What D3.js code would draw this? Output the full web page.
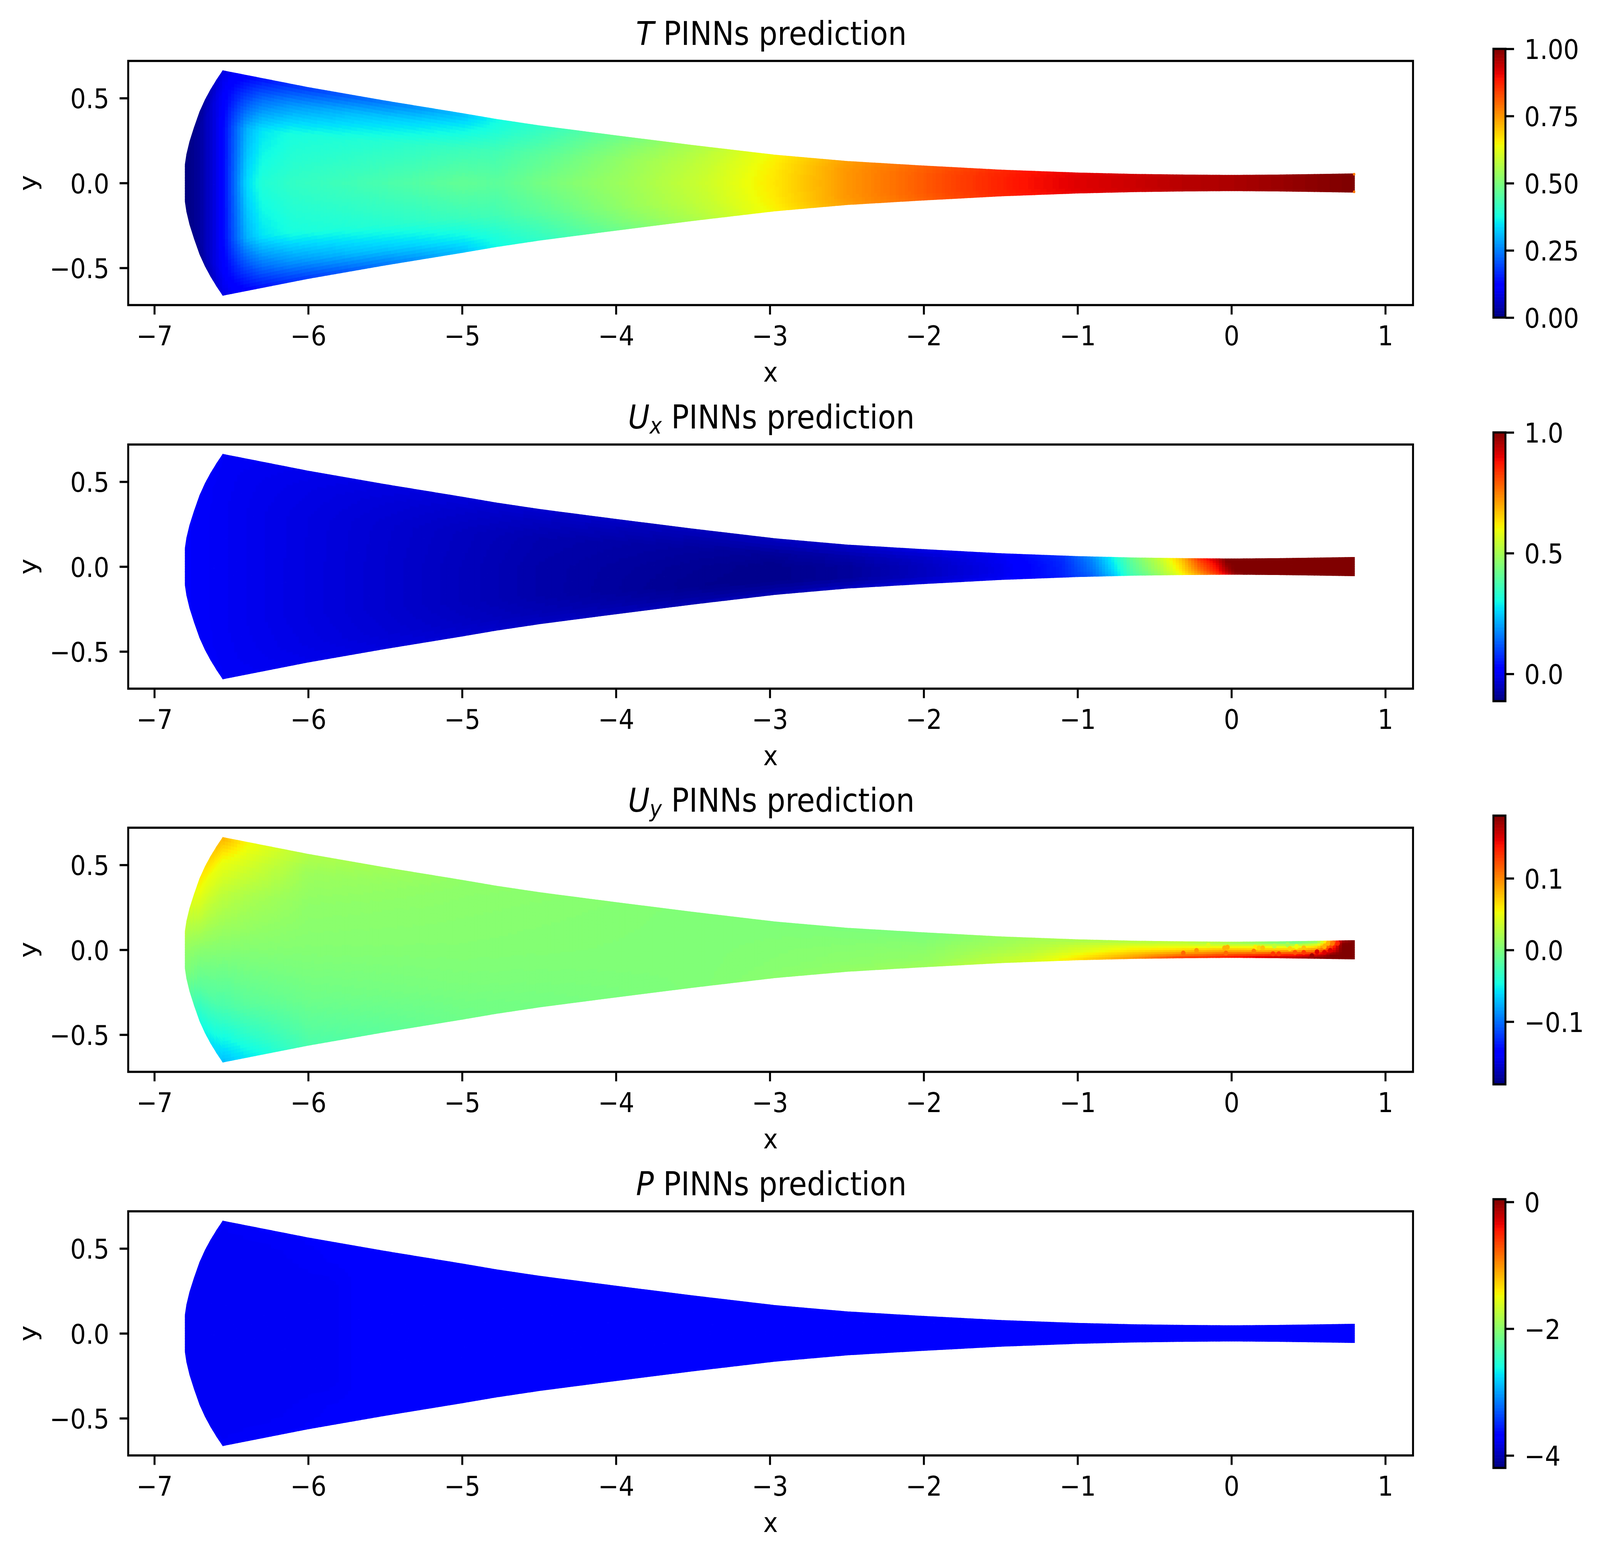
<!DOCTYPE html>
<html>
<head>
<meta charset="utf-8">
<script src="https://cdn.jsdelivr.net/npm/d3@7"></script>
<style>
  html, body { margin: 0; padding: 0; background: #fff; overflow: hidden; }
  svg { display: block; }
  text { font-family: "DejaVu Sans", sans-serif; fill: #000; }
</style>
</head>
<body>
<div id="chart"></div>
<script>
// Nozzle outline, upper half (lower wall is its mirror)
var wallX = [-6.8, -6.79, -6.77, -6.74, -6.705, -6.67, -6.634, -6.595, -6.555, -6, -5.5, -5, -4.78, -4.5, -4, -3.5, -2.967, -2.5, -2.018, -1.788, -1.5, -1, -0.6375, -0.3, 0, 0.3, 0.6, 0.8];
var wallY = [0.11, 0.17, 0.245, 0.33, 0.42, 0.49, 0.55, 0.608, 0.662, 0.563, 0.484, 0.41, 0.376, 0.338, 0.279, 0.222, 0.165, 0.128, 0.102, 0.091, 0.077, 0.06, 0.052, 0.048, 0.046, 0.048, 0.052, 0.055];

// Rows of every table below, as a fraction of the local half height
var etaRows = [-1, -0.8, -0.5, 0, 0.5, 0.8, 1];

// Temperature read at stations along x
var tempStations = [-6.8, -6.7, -6.6, -6.55, -6.5, -6.4, -6.3, -6.1, -5.7, -5.3, -5, -4.78, -4.4, -3.85, -3.4, -2.97, -2.5, -2.1, -1.79, -1.4, -1, -0.6, -0.3, 0, 0.4, 0.8];
var tempValues = [
  [0, 0, 0, 0, 0, 0, 0],
  [0.02, 0.03, 0.03, 0.03, 0.03, 0.03, 0.02],
  [0.07, 0.09, 0.09, 0.09, 0.09, 0.09, 0.07],
  [0.09, 0.11, 0.13, 0.13, 0.13, 0.11, 0.09],
  [0.10, 0.14, 0.19, 0.20, 0.19, 0.14, 0.10],
  [0.12, 0.19, 0.30, 0.34, 0.30, 0.19, 0.12],
  [0.14, 0.23, 0.35, 0.39, 0.35, 0.23, 0.14],
  [0.17, 0.27, 0.38, 0.41, 0.38, 0.27, 0.17],
  [0.215, 0.31, 0.39, 0.43, 0.39, 0.31, 0.215],
  [0.265, 0.335, 0.405, 0.45, 0.405, 0.335, 0.265],
  [0.31, 0.36, 0.42, 0.47, 0.42, 0.36, 0.31],
  [0.37, 0.39, 0.43, 0.46, 0.43, 0.39, 0.37],
  [0.42, 0.44, 0.47, 0.50, 0.47, 0.44, 0.42],
  [0.50, 0.52, 0.54, 0.55, 0.54, 0.52, 0.50],
  [0.57, 0.58, 0.59, 0.60, 0.59, 0.58, 0.57],
  [0.65, 0.655, 0.66, 0.665, 0.66, 0.655, 0.65],
  [0.74, 0.745, 0.75, 0.75, 0.75, 0.745, 0.74],
  [0.79, 0.795, 0.80, 0.80, 0.80, 0.795, 0.79],
  [0.83, 0.835, 0.84, 0.84, 0.84, 0.835, 0.83],
  [0.88, 0.88, 0.885, 0.885, 0.885, 0.88, 0.88],
  [0.91, 0.91, 0.915, 0.915, 0.915, 0.91, 0.91],
  [0.93, 0.93, 0.935, 0.935, 0.935, 0.93, 0.93],
  [0.95, 0.95, 0.95, 0.95, 0.95, 0.95, 0.95],
  [0.96, 0.96, 0.96, 0.96, 0.96, 0.96, 0.96],
  [0.98, 0.98, 0.98, 0.98, 0.98, 0.98, 0.98],
  [1, 1, 1, 1, 1, 1, 1]
];

// Small orange dots that peek out at the outlet corners
var tempDotX = [0.797, 0.797];
var tempDotY = [0.052, -0.052];
var tempDotV = [0.78, 0.78];

// Ux read at stations along x
var uxStations = [-6.8, -6.3, -5.5, -4.5, -3.5, -3, -2.5, -2, -1.5, -1.1, -0.9, -0.76, -0.65, -0.55, -0.45, -0.32, -0.21, -0.09, -0.03, 0.02, 0.1, 0.8];
var uxValues = [
  [0.01, 0.01, 0.01, 0.01, 0.01, 0.01, 0.01],
  [0, -0.005, -0.008, -0.008, -0.008, -0.005, 0],
  [-0.02, -0.03, -0.035, -0.035, -0.033, -0.025, -0.015],
  [-0.045, -0.06, -0.07, -0.07, -0.065, -0.05, -0.035],
  [-0.06, -0.08, -0.095, -0.09, -0.08, -0.065, -0.05],
  [-0.055, -0.08, -0.10, -0.10, -0.085, -0.06, -0.05],
  [-0.045, -0.065, -0.085, -0.085, -0.07, -0.05, -0.04],
  [-0.02, -0.035, -0.05, -0.05, -0.04, -0.025, -0.015],
  [0.005, 0, -0.005, -0.005, 0, 0.005, 0.01],
  [0.055, 0.06, 0.065, 0.065, 0.07, 0.075, 0.08],
  [0.13, 0.14, 0.15, 0.16, 0.17, 0.18, 0.19],
  [0.24, 0.25, 0.265, 0.277, 0.29, 0.30, 0.31],
  [0.36, 0.37, 0.38, 0.39, 0.40, 0.41, 0.42],
  [0.42, 0.43, 0.445, 0.46, 0.47, 0.48, 0.49],
  [0.49, 0.50, 0.515, 0.527, 0.54, 0.55, 0.56],
  [0.60, 0.61, 0.63, 0.644, 0.66, 0.67, 0.68],
  [0.70, 0.72, 0.75, 0.777, 0.80, 0.82, 0.84],
  [0.82, 0.84, 0.87, 0.889, 0.91, 0.93, 0.94],
  [0.90, 0.92, 0.95, 0.97, 0.99, 1, 1],
  [0.97, 0.98, 1, 1, 1, 1, 1],
  [1, 1, 1, 1, 1, 1, 1],
  [1, 1, 1, 1, 1, 1, 1]
];

// Uy read at stations along x
var uyStations = [-6.8, -6.7, -6.55, -6.4, -6, -5, -3.5, -2, -1.3, -0.64, -0.35, -0.064, 0.22, 0.41, 0.557, 0.65, 0.72, 0.8];
var uyValues = [
  [0, 0.002, 0.006, 0.011, 0.018, 0.025, 0.03],
  [-0.045, -0.034, -0.015, 0.006, 0.034, 0.05, 0.06],
  [-0.071, -0.049, -0.022, 0.004, 0.03, 0.052, 0.0825],
  [-0.056, -0.037, -0.015, 0.004, 0.022, 0.041, 0.056],
  [-0.022, -0.015, -0.006, 0.004, 0.009, 0.015, 0.024],
  [-0.006, -0.004, 0, 0.004, 0.006, 0.0075, 0.009],
  [0.002, 0.002, 0.002, 0.002, 0.002, 0.002, 0.002],
  [0.015, 0.013, 0.01, 0.0075, 0.004, 0.001, 0],
  [0.041, 0.0375, 0.034, 0.026, 0.021, 0.019, 0.017],
  [0.0975, 0.09, 0.079, 0.06, 0.045, 0.03, 0.0225],
  [0.135, 0.12, 0.0975, 0.0675, 0.045, 0.034, 0.026],
  [0.1425, 0.135, 0.1125, 0.079, 0.045, 0.026, 0.019],
  [0.165, 0.15, 0.124, 0.075, 0.045, 0.015, 0],
  [0.176, 0.161, 0.135, 0.079, 0.0375, 0, -0.011],
  [0.1875, 0.18, 0.15, 0.0975, 0.056, 0.019, 0.004],
  [0.1875, 0.1875, 0.186, 0.1425, 0.12, 0.0975, 0.086],
  [0.1875, 0.1875, 0.1875, 0.1875, 0.1875, 0.18, 0.169],
  [0.1875, 0.1875, 0.1875, 0.1875, 0.1875, 0.1875, 0.1875]
];

// Individual Uy scatter dots that stand out in the throat
var uyDotX = [-0.1505, -0.045, -0.026, 0.155, 0.179, 0.203, 0.279, 0.365, 0.4225, 0.3795, 0.47, 0.604, 0.628, 0.656, 0.69, -0.313, -0.227, -0.036, 0.1455, 0.27, 0.308, 0.413, 0.47, 0.556, 0.523, 0.642, 0.604];
var uyDotY = [0.0265, 0.011, 0.015, 0.015, 0.011, 0.011, 0.0226, 0.030, 0.019, 0.007, 0.011, 0.019, 0.038, 0.038, 0.038, -0.0196, -0.004, -0.0196, -0.008, -0.0235, -0.0235, -0.0157, -0.0157, -0.012, -0.035, -0.004, -0.0157];
var uyDotV = [0.045, 0.0825, 0.0825, 0.06, 0.0675, 0.075, 0.03, 0.019, 0.0525, 0.0675, 0.075, 0.0825, 0.0825, 0.105, 0.139, 0.1125, 0.094, 0.1125, 0.105, 0.131, 0.131, 0.12, 0.131, 0.1575, 0.176, 0.1575, 0.1575];

// Pressure read at stations along x
var pStations = [-6.8, -6.3, -5.85, -5.7, -4.9, -4.65, -4.2, 0.8];
var pValues = [
  [-3.76, -3.76, -3.76, -3.76, -3.76, -3.76, -3.76],
  [-3.73, -3.76, -3.76, -3.76, -3.76, -3.76, -3.73],
  [-3.73, -3.73, -3.76, -3.76, -3.76, -3.73, -3.73],
  [-3.73, -3.73, -3.73, -3.73, -3.73, -3.73, -3.73],
  [-3.73, -3.73, -3.73, -3.73, -3.73, -3.73, -3.73],
  [-3.73, -3.70, -3.70, -3.66, -3.70, -3.73, -3.73],
  [-3.66, -3.66, -3.66, -3.66, -3.66, -3.66, -3.66],
  [-3.66, -3.66, -3.66, -3.66, -3.66, -3.66, -3.66]
];

// Axis ticks
var xTicks = [-7, -6, -5, -4, -3, -2, -1, 0, 1];
var yTicks = [-0.5, 0, 0.5];

// Colorbar ranges and ticks
var tempRange = [0, 1];
var tempTicks = [0, 0.25, 0.5, 0.75, 1];
var uxRange = [-0.113, 1];
var uxTicks = [0, 0.5, 1];
var uyRange = [-0.1875, 0.1875];
var uyTicks = [-0.1, 0, 0.1];
var pRange = [-4.197, 0.043];
var pTicks = [-4, -2, 0];

// Define svg dimensions, the drawing keeps these units whatever the window is
var svgWidth = 4518;
var svgHeight = 3986;

// Define panel dimensions, everything below is in pixels of the 500 dpi figure
var panelLeft = 362;
var panelRight = 3990;
var panelHeight = 625;
var panelTops = [156, 1138, 2119, 3101];
var lineWidth = 5.56;
var tickLength = 24.3;
var tickFont = 69.44;
var titleFont = 83.33;

var panels = [
  {symbol: "T", sub: "", stations: tempStations, table: tempValues, range: tempRange, ticks: tempTicks, fmt: ".2f",
   dotX: tempDotX, dotY: tempDotY, dotV: tempDotV, dotR: 3.5},
  {symbol: "U", sub: "x", stations: uxStations, table: uxValues, range: uxRange, ticks: uxTicks, fmt: ".1f"},
  {symbol: "U", sub: "y", stations: uyStations, table: uyValues, range: uyRange, ticks: uyTicks, fmt: ".1f",
   dotX: uyDotX, dotY: uyDotY, dotV: uyDotV, dotR: 6.5},
  {symbol: "P", sub: "", stations: pStations, table: pValues, range: pRange, ticks: pTicks, fmt: "d"}
];

// Jet colormap, quantized to 256 levels like the original
var jetR = d3.scaleLinear().domain([0, 0.35, 0.66, 0.89, 1]).range([0, 0, 1, 1, 0.5]);
var jetG = d3.scaleLinear().domain([0, 0.125, 0.375, 0.64, 0.91, 1]).range([0, 0, 1, 1, 0, 0]);
var jetB = d3.scaleLinear().domain([0, 0.11, 0.34, 0.65, 1]).range([0.5, 1, 1, 0, 0]);

function jet(n) {
  var level = Math.min(255, Math.floor(n * 256)) / 255;
  return d3.rgb(jetR(level) * 255, jetG(level) * 255, jetB(level) * 255).formatHex();
}

// Shade between the values, like gouraud shading of a mesh
function readField(stations, table, x, eta) {
  var i = Math.max(1, Math.min(stations.length - 1, d3.bisectRight(stations, x)));
  var j = Math.max(1, Math.min(etaRows.length - 1, d3.bisectRight(etaRows, eta)));
  var tx = (x - stations[i - 1]) / (stations[i] - stations[i - 1]);
  var te = (eta - etaRows[j - 1]) / (etaRows[j] - etaRows[j - 1]);
  var low = table[i - 1][j - 1] * (1 - te) + table[i - 1][j] * te;
  var high = table[i][j - 1] * (1 - te) + table[i][j] * te;
  return low * (1 - tx) + high * tx;
}

// The browser window may be narrower than the figure, so fit the whole figure to it
var svg = d3.select("#chart")
  .append("svg")
  .attr("width", window.innerWidth)
  .attr("height", window.innerHeight)
  .attr("viewBox", `0 0 ${svgWidth} ${svgHeight}`)
  .attr("preserveAspectRatio", "none");

var wall = d3.scaleLinear().domain(wallX).range(wallY);

// Column edges of the mesh, keep the outline knots so the corners stay sharp
var meshEdges = Array.from(new Set(d3.range(-6.8, 0.8, 0.02).map(d => +d.toFixed(3)).concat(wallX))).sort(d3.ascending);

panels.forEach(function(panel, index) {
  var top = panelTops[index];

  var xScale = d3.scaleLinear().domain([-7.17, 1.18]).range([panelLeft, panelRight]);
  var yScale = d3.scaleLinear().domain([-0.719, 0.719]).range([top + panelHeight, top]);
  var colorNorm = d3.scaleLinear().domain(panel.range).range([0, 1]).clamp(true);

  var group = svg.append("g").classed("panel", true);

  // Build the mesh cells
  var cells = [];
  d3.pairs(meshEdges).forEach(function(edge) {
    var x0 = edge[0], x1 = edge[1];
    var mid = (x0 + x1) / 2;
    var rowCount = Math.max(8, Math.ceil((yScale(-wall(mid)) - yScale(wall(mid))) / 9));
    d3.range(rowCount).forEach(function(r) {
      var e0 = -1 + 2 * r / rowCount;
      var e1 = -1 + 2 * (r + 1) / rowCount;
      cells.push({
        corners: [[x0, e0 * wall(x0)], [x1, e0 * wall(x1)], [x1, e1 * wall(x1)], [x0, e1 * wall(x0)]],
        color: jet(colorNorm(readField(panel.stations, panel.table, mid, (e0 + e1) / 2)))
      });
    });
  });

  var cellLine = d3.line().x(d => xScale(d[0])).y(d => yScale(d[1]));

  group.append("g")
    .classed("field", true)
    .selectAll("path")
    .data(cells)
    .join("path")
    .attr("d", d => cellLine(d.corners) + "Z")
    .attr("fill", d => d.color)
    .attr("stroke", d => d.color)
    .attr("stroke-width", 1.4);

  // Scatter dots that show through
  if (panel.dotX) {
    group.append("g")
      .classed("dots", true)
      .selectAll("circle")
      .data(panel.dotX)
      .join("circle")
      .attr("cx", d => xScale(d))
      .attr("cy", (d, i) => yScale(panel.dotY[i]))
      .attr("r", panel.dotR)
      .attr("fill", (d, i) => jet(colorNorm(panel.dotV[i])));
  }

  // Panel frame
  group.append("rect")
    .attr("x", panelLeft)
    .attr("y", top)
    .attr("width", panelRight - panelLeft)
    .attr("height", panelHeight)
    .attr("fill", "none")
    .attr("stroke", "#000")
    .attr("stroke-width", lineWidth);

  // Bottom axis
  var xAxis = group.append("g")
    .attr("transform", `translate(0, ${top + panelHeight})`)
    .call(d3.axisBottom(xScale).tickValues(xTicks).tickFormat(d3.format("d")).tickSize(tickLength).tickPadding(29));

  // Left axis
  var yAxis = group.append("g")
    .attr("transform", `translate(${panelLeft}, 0)`)
    .call(d3.axisLeft(yScale).tickValues(yTicks).tickFormat(d3.format(".1f")).tickSize(tickLength).tickPadding(29));

  [xAxis, yAxis].forEach(function(axis) {
    axis.select(".domain").remove();
    axis.selectAll("line").attr("stroke", "#000").attr("stroke-width", lineWidth);
    axis.selectAll("text").attr("font-size", tickFont).attr("font-family", "DejaVu Sans");
  });
  yAxis.selectAll("text").attr("dy", "0.37em");

  // Axis labels
  group.append("text")
    .attr("x", (panelLeft + panelRight) / 2)
    .attr("y", top + panelHeight + 196)
    .attr("text-anchor", "middle")
    .attr("font-size", tickFont)
    .text("x");

  group.append("text")
    .attr("transform", `translate(103, ${top + panelHeight / 2}) rotate(-90)`)
    .attr("text-anchor", "middle")
    .attr("font-size", tickFont)
    .text("y");

  // Title with the math symbol in italics
  var title = group.append("text")
    .attr("x", (panelLeft + panelRight) / 2 + 2)
    .attr("y", top - 41)
    .attr("text-anchor", "middle")
    .attr("font-size", titleFont);
  title.append("tspan").attr("font-style", "italic").text(panel.symbol);
  if (panel.sub) {
    title.append("tspan").attr("font-style", "italic").attr("font-size", titleFont * 0.7).attr("dy", 13).text(panel.sub);
    title.append("tspan").attr("dy", -13).text(" PINNs prediction");
  } else {
    title.append("tspan").text(" PINNs prediction");
  }

  // Colorbar
  var barLeft = 4217;
  var barRight = 4251;
  var barTop = top - 31;
  var barHeight = 688;
  var barScale = d3.scaleLinear().domain(panel.range).range([barTop + barHeight, barTop]);
  var levels = d3.range(256);
  var levelValue = d3.scaleLinear().domain([0, 256]).range(panel.range);

  group.append("g")
    .classed("colorbar", true)
    .selectAll("rect")
    .data(levels)
    .join("rect")
    .attr("x", barLeft)
    .attr("width", barRight - barLeft)
    .attr("y", d => barScale(levelValue(d + 1)))
    .attr("height", d => barScale(levelValue(d)) - barScale(levelValue(d + 1)) + 0.6)
    .attr("fill", d => jet((d + 0.5) / 256));

  group.append("rect")
    .attr("x", barLeft)
    .attr("y", barTop)
    .attr("width", barRight - barLeft)
    .attr("height", barHeight)
    .attr("fill", "none")
    .attr("stroke", "#000")
    .attr("stroke-width", lineWidth);

  var barAxis = group.append("g")
    .attr("transform", `translate(${barRight}, 0)`)
    .call(d3.axisRight(barScale).tickValues(panel.ticks).tickFormat(d3.format(panel.fmt)).tickSize(tickLength).tickPadding(29));
  barAxis.select(".domain").remove();
  barAxis.selectAll("line").attr("stroke", "#000").attr("stroke-width", lineWidth);
  barAxis.selectAll("text").attr("font-size", tickFont).attr("font-family", "DejaVu Sans").attr("dy", "0.37em");
});
</script>
</body>
</html>
